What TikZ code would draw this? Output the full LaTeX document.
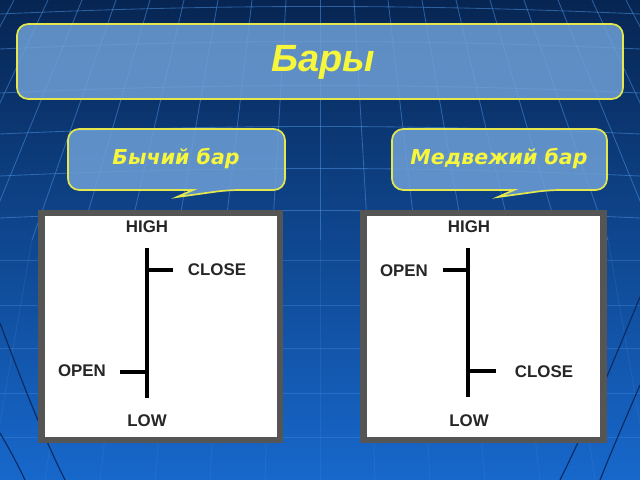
\documentclass[tikz,border=0pt]{standalone}
\usepackage{fontspec}
\setmainfont{Liberation Sans}
\newfontfamily\calloutfont{DejaVu Sans}
\usepackage{tikz}
\usetikzlibrary{
    calc,
    positioning
}
\definecolor{bgtop}{HTML}{072552}
\definecolor{bgmid}{HTML}{0B4690}
\definecolor{bgbot}{HTML}{1768CC}
\definecolor{gridlight}{HTML}{4A8FE0}
\definecolor{griddark}{HTML}{0A2A62}
\definecolor{boxfill}{HTML}{6E9FD6}
\definecolor{boxline}{HTML}{E4E84C}
\definecolor{yellowtext}{HTML}{F6F63C}
\definecolor{framegray}{HTML}{555555}
\tikzset{
    label box/.style={draw=boxline, line width=1.2pt, fill=boxfill, fill opacity=0.85},
    title text/.style={text=yellowtext, font=\fontsize{27}{30}\selectfont\bfseries\itshape},
    callout text/.style={text=yellowtext, font=\calloutfont\fontsize{14.6}{17}\selectfont\bfseries\itshape},
    chart frame/.style={draw=framegray, line width=4.6pt, fill=white},
    price label/.style={font=\fontsize{12}{14}\selectfont\bfseries, text=black!85, inner sep=0pt},
    bar line/.style={line width=2.6pt, black}
}

\begin{document}
\begin{tikzpicture}[x=0.025cm, y=-0.025cm]
        \useasboundingbox (0,0) rectangle (640,480);
        % background
        \shade[top color=bgtop, middle color=bgmid, bottom color=bgbot] (0,0) rectangle (640,480);
        \begin{scope}
            \clip (0,0) rectangle (640,240);
            \foreach \k in {-9,...,9}
                \draw[gridlight, opacity=0.55, line width=0.6pt] (320+\k*48,240) -- (320+\k*34,0);
            \foreach \yy in {8,43,87,128,170,212}
                \draw[gridlight, opacity=0.55, line width=0.6pt] (0,\yy+6) .. controls (220,\yy-4) and (420,\yy-4) .. (640,\yy+6);
        \end{scope}
        \foreach \k in {-9,...,9}
            \draw[gridlight, opacity=0.2, line width=0.6pt] (320+\k*48,240) -- (320+\k*55,480);
        \foreach \yy in {260,305,348,393,437}
            \draw[gridlight, opacity=0.35, line width=0.6pt] (0,\yy) -- (640,\yy);
        \draw[griddark, line width=0.8pt] (0,323) .. controls (25,390) and (45,440) .. (65,480);
        \draw[griddark, line width=0.8pt] (0,433) .. controls (10,450) and (18,465) .. (25,480);
        \draw[griddark, line width=0.8pt] (640,297) .. controls (610,370) and (585,430) .. (560,480);
        \draw[griddark, line width=0.8pt] (640,385) .. controls (625,420) and (612,450) .. (600,480);

        % title
        \draw[label box, rounded corners=8] (17,24) rectangle (623,99);
        \node[title text] (title) at (323,62) {Бары};

        % callouts
        \draw[label box, rounded corners=8] (68,160) -- (68,129) -- (285,129) -- (285,190) -- (228,190)
            [sharp corners] -- (177,197) -- (193,190) [rounded corners=8] -- (68,190) -- cycle;
        \node[callout text] (bull) at (176,158) {Бычий бар};
        \draw[label box, rounded corners=8] (392,160) -- (392,129) -- (607,129) -- (607,190) -- (549,190)
            [sharp corners] -- (498,197) -- (514,190) [rounded corners=8] -- (392,190) -- cycle;
        \node[callout text] (bear) at (499,158) {Медвежий бар};

        % bull bar
        \draw[chart frame] (41.5,213) rectangle (280,440);
        \coordinate (bullhigh) at (147,248);
        \coordinate (bulllow) at (147,398);
        \coordinate (bullclose) at (147,270);
        \coordinate (bullopen) at (147,372);
        \draw[bar line] (bullhigh) -- (bulllow);
        \draw[bar line] (bullclose) -- ++(26,0);
        \draw[bar line] (bullopen) -- ++(-27,0);
        \node[price label] (bullhightext) at (147,227) {HIGH};
        \node[price label] (bullclosetext) at (217,270) {CLOSE};
        \node[price label] (bullopentext) at (82,371) {OPEN};
        \node[price label] (bulllowtext) at (147,421) {LOW};

        % bear bar
        \draw[chart frame] (363.5,213) rectangle (603.5,440);
        \coordinate (bearhigh) at (468,248);
        \coordinate (bearlow) at (468,397);
        \coordinate (bearopen) at (468,270);
        \coordinate (bearclose) at (468,371);
        \draw[bar line] (bearhigh) -- (bearlow);
        \draw[bar line] (bearopen) -- ++(-25,0);
        \draw[bar line] (bearclose) -- ++(28,0);
        \node[price label] (bearhightext) at (469,227) {HIGH};
        \node[price label] (bearopentext) at (404,271) {OPEN};
        \node[price label] (bearclosetext) at (544,372) {CLOSE};
        \node[price label] (bearlowtext) at (469,421) {LOW};
    \end{tikzpicture}
\end{document}
